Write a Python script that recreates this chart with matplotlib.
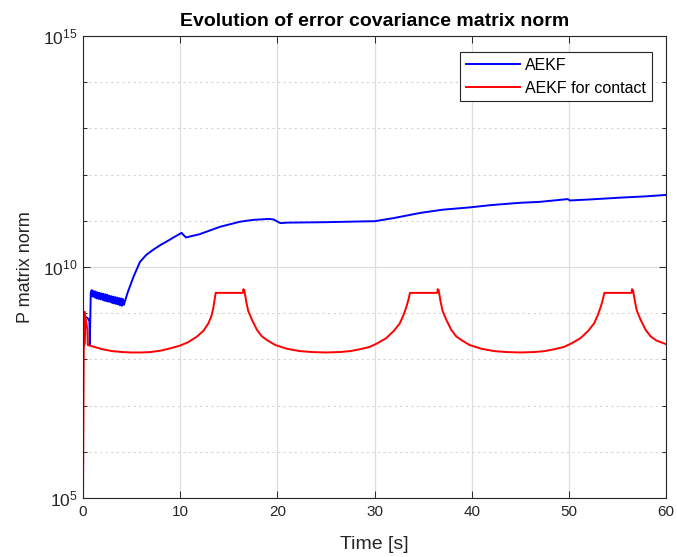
import numpy as np
import matplotlib
matplotlib.use("Agg")
import matplotlib.pyplot as plt
from matplotlib.ticker import LogFormatterSciNotation, NullFormatter

plt.rcParams['font.family'] = ['Liberation Sans', 'DejaVu Sans']
plt.rcParams['mathtext.fontset'] = 'custom'
plt.rcParams['mathtext.rm'] = 'Liberation Sans'
plt.rcParams['mathtext.it'] = 'Liberation Sans:italic'
plt.rcParams['mathtext.bf'] = 'Liberation Sans:bold'

# values, stored as log10(P norm)
t_aekf = [0.17, 0.22, 0.45, 0.62, 0.66, 0.70, 0.80,
          0.9, 1.0, 1.1, 1.2, 1.3, 1.4, 1.5, 1.6, 1.7, 1.8, 1.9, 2.0,
          2.1, 2.2, 2.3, 2.4, 2.5, 2.6, 2.7, 2.8, 2.9, 3.0, 3.1, 3.2,
          3.3, 3.4, 3.5, 3.6, 3.7, 3.8, 3.9, 4.0, 4.1, 4.2,
          4.6, 5.2, 5.86, 6.5, 7.2, 8.0, 8.6, 9.4, 10.15, 10.3, 10.6,
          12.0, 14.1, 16.15, 17.5, 19.1, 19.6, 20.3, 21.0, 25.0, 29.5,
          30.0, 32.0, 34.7, 37.0, 39.8, 42.0, 45.0, 47.0, 49.9, 50.1,
          52.0, 55.2, 58.0, 60.0]
log_aekf = [8.35, 8.92, 8.90, 8.85, 8.85, 8.31, 9.45,
            9.50, 9.36, 9.48, 9.34, 9.47, 9.32, 9.45, 9.31, 9.44, 9.30, 9.43, 9.29,
            9.42, 9.27, 9.41, 9.26, 9.40, 9.25, 9.38, 9.24, 9.37, 9.22, 9.36, 9.21,
            9.35, 9.20, 9.34, 9.19, 9.33, 9.17, 9.32, 9.16, 9.31, 9.18,
            9.45, 9.79, 10.11, 10.26, 10.37, 10.48, 10.55, 10.65, 10.74, 10.70, 10.64,
            10.71, 10.87, 10.98, 11.02, 11.04, 11.03, 10.95, 10.96, 10.97, 10.99,
            10.99, 11.06, 11.17, 11.24, 11.29, 11.34, 11.39, 11.41, 11.47, 11.44,
            11.46, 11.50, 11.53, 11.56]

t_contact = [0.0, 0.08, 0.12, 0.17, 0.30, 0.45, 0.50,
             1.0, 2.0, 3.0, 4.0, 5.0, 6.0, 7.0, 8.0, 9.0, 10.0, 10.8, 11.7,
             12.4, 12.9, 13.2, 13.4, 13.55, 13.65, 16.45, 16.5, 16.6, 16.8,
             17.0, 17.4, 17.9, 18.4, 19.0, 19.8, 21.0, 22.3, 23.5, 25.0,
             26.5, 27.5, 28.5, 29.5, 30.3, 31.2, 32.0, 32.6, 33.0, 33.3,
             33.5, 33.65, 36.45, 36.5, 36.6, 36.8, 37.0, 37.4, 37.9, 38.4,
             39.0, 39.8, 41.0, 42.3, 43.5, 45.0, 46.5, 47.5, 48.5, 49.5,
             50.3, 51.2, 52.0, 52.6, 53.0, 53.3, 53.5, 53.65, 56.45, 56.5,
             56.6, 56.8, 57.0, 57.4, 57.9, 58.4, 59.0, 60.0]
log_contact = [5.0, 8.40, 8.30, 9.03, 8.85, 8.64, 8.31,
               8.28, 8.22, 8.18, 8.16, 8.15, 8.15, 8.16, 8.19, 8.24, 8.30, 8.37, 8.49,
               8.62, 8.78, 8.93, 9.10, 9.30, 9.44, 9.44, 9.52, 9.50, 9.25,
               9.05, 8.85, 8.64, 8.50, 8.41, 8.31, 8.23, 8.18, 8.16, 8.15,
               8.16, 8.18, 8.22, 8.27, 8.35, 8.46, 8.62, 8.78, 8.97, 9.15,
               9.30, 9.44, 9.44, 9.52, 9.50, 9.25, 9.05, 8.85, 8.64, 8.50,
               8.41, 8.31, 8.23, 8.18, 8.16, 8.15, 8.16, 8.18, 8.22, 8.27,
               8.35, 8.46, 8.62, 8.78, 8.97, 9.15, 9.30, 9.44, 9.44, 9.52,
               9.50, 9.25, 9.05, 8.85, 8.64, 8.50, 8.41, 8.33]

ink = '#262626'

fig = plt.figure(figsize=(6.77, 5.57), dpi=100)
ax = fig.add_axes([0.1226, 0.1059, 0.8612, 0.8295])

ax.plot(t_aekf, 10 ** np.array(log_aekf), color='#0000ff', lw=1.4, label='AEKF')
ax.plot(t_contact, 10 ** np.array(log_contact), color='#ff0000', lw=1.4, label='AEKF for contact')

ax.set_yscale('log')
ax.set_xlim(0, 60)
ax.set_ylim(1e5, 1e15)
ax.set_xticks([0, 10, 20, 30, 40, 50, 60])
ax.set_yticks([1e5, 1e10, 1e15])
ax.set_yticks([10.0 ** k for k in range(6, 15) if k != 10], minor=True)
ax.yaxis.set_major_formatter(LogFormatterSciNotation())
ax.yaxis.set_minor_formatter(NullFormatter())

ax.grid(True, which='major', color='#dedede', lw=0.9)
ax.yaxis.grid(True, which='minor', color='#d4d4d4', lw=0.8, ls=(0, (2, 3)))
ax.set_axisbelow(True)

ax.tick_params(which='both', direction='in', top=True, right=True, colors=ink,
               labelsize=11, width=0.7)
ax.tick_params(axis='x', pad=5)
ax.tick_params(axis='y', labelsize=12.5, pad=4)
ax.tick_params(which='major', length=5)
ax.tick_params(which='minor', length=3)
for s in ax.spines.values():
    s.set_color(ink)
    s.set_linewidth(0.8)

ax.set_title('Evolution of error covariance matrix norm', fontsize=14,
             fontweight='bold', color='black', pad=7)
ax.set_xlabel('Time [s]', fontsize=14, color=ink, labelpad=12)
ax.set_ylabel('P matrix norm', fontsize=13, color=ink, labelpad=6)

leg = ax.legend(loc='upper right', bbox_to_anchor=(0.976, 0.965), borderaxespad=0,
                fontsize=11.5, handlelength=3.4, handletextpad=0.35,
                fancybox=False, framealpha=1, edgecolor=ink, labelspacing=0.5,
                borderpad=0.35)
leg.get_frame().set_linewidth(0.8)

fig.savefig('out.png', dpi=100)
